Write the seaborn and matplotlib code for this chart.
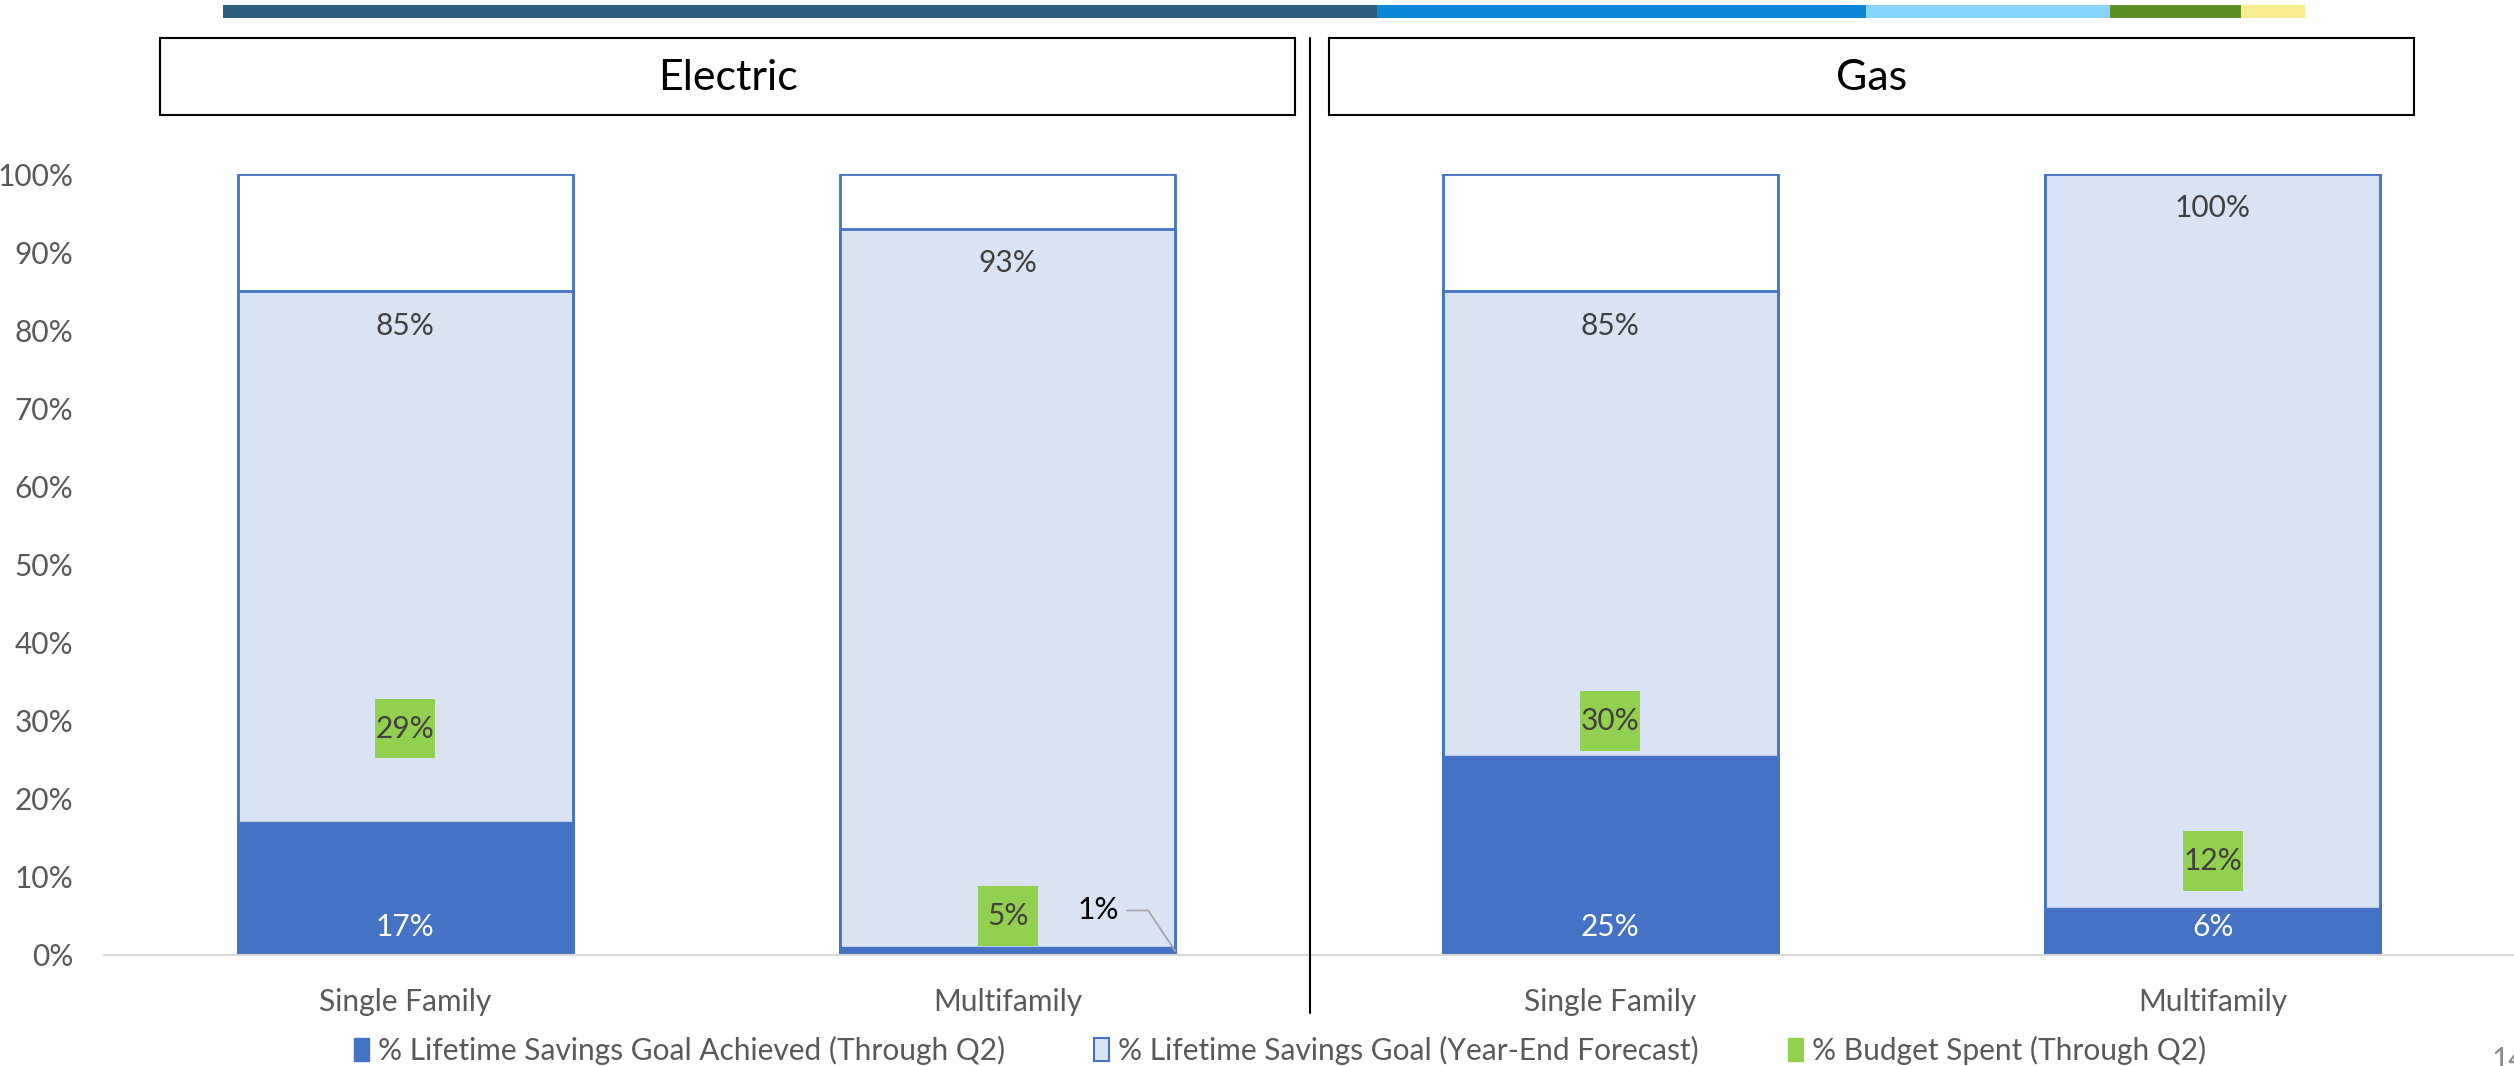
import matplotlib.pyplot as plt
import seaborn as sns
import pandas as pd
from matplotlib.patches import Rectangle, Patch

# data
fuels = ['Electric', 'Electric', 'Gas', 'Gas']
segments = ['Single Family', 'Multifamily', 'Single Family', 'Multifamily']
achieved = [17, 1, 25.5, 6]          # % lifetime savings goal achieved (through Q2)
forecast = [85, 93, 85, 100]        # % lifetime savings goal (year-end forecast)
budget = [29, 5, 30, 12]            # % budget spent (through Q2)
achieved_labels = ['17%', '1%', '25%', '6%']
forecast_labels = ['85%', '93%', '85%', '100%']
budget_labels = ['29%', '5%', '30%', '12%']
headers = ['Electric', 'Gas']
legend_labels = ['% Lifetime Savings Goal Achieved (Through Q2)',
                 '% Lifetime Savings Goal (Year-End Forecast)',
                 '% Budget Spent (Through Q2)']
yticks = [0, 10, 20, 30, 40, 50, 60, 70, 80, 90, 100]

DARK = '#4472C4'
LIGHT = '#DAE3F3'
GREEN = '#92D050'
TXT = '#404040'
FS = 21.5

df = pd.DataFrame({'fuel': fuels, 'segment': segments, 'achieved': achieved,
                   'forecast': forecast, 'budget': budget})
df['key'] = df['fuel'] + ' ' + df['segment']
df['goal'] = 100
df['pos'] = range(len(df))

sns.set_style('white')
plt.rcParams['font.family'] = ['Lato', 'DejaVu Sans']

W, H = 2514, 1066
fig = plt.figure(figsize=(W / 100, H / 100), dpi=100)
ax = fig.add_axes([104 / W, 1 - 955 / H, 1 - 104 / W, (955 - 174) / H])

bw = 0.556
sns.barplot(data=df, x='key', y='goal', color='white', edgecolor=DARK,
            linewidth=2, width=bw, saturation=1, errorbar=None, ax=ax)
sns.barplot(data=df, x='key', y='forecast', color=LIGHT, edgecolor=DARK,
            linewidth=2, width=bw, saturation=1, errorbar=None, ax=ax)
sns.barplot(data=df, x='key', y='achieved', color=DARK, edgecolor=DARK,
            linewidth=1, width=bw, saturation=1, errorbar=None, ax=ax)
sns.scatterplot(data=df, x='key', y='budget', marker='s', s=1850, color=GREEN,
                edgecolor='none', zorder=5, ax=ax)

for i, row in df.iterrows():
    ax.text(i, row['forecast'] - 4.4, forecast_labels[i], ha='center', va='center',
            fontsize=FS, color=TXT)
    ax.text(i, row['budget'], budget_labels[i], ha='center', va='center',
            fontsize=FS, color=TXT, zorder=6)
    if row['achieved'] >= 5:
        ax.text(i, 3.6, achieved_labels[i], ha='center', va='center',
                fontsize=FS, color='white')
    else:
        # small value: label outside with a leader line to the bar
        edge = i + bw / 2
        ax.text(i + 0.15, 5.7, achieved_labels[i], ha='center', va='center',
                fontsize=FS, color='black')
        ax.plot([edge - 0.08, edge - 0.045, edge], [5.7, 5.7, row['achieved'] / 2],
                color='#A6A6A6', lw=1.3, zorder=6)

ax.set_xlim(-0.5, 3.5)
ax.set_ylim(0, 100)
ax.set_yticks(yticks)
ax.set_yticklabels([f'{t}%' for t in yticks])
ax.set_xticks(df['pos'])
ax.set_xticklabels(segments)
ax.set_xlabel('')
ax.set_ylabel('')
ax.tick_params(axis='both', length=0, labelsize=FS, labelcolor='#595959')
ax.tick_params(axis='x', pad=24)
ax.tick_params(axis='y', pad=22)
for s in ['top', 'right', 'left']:
    ax.spines[s].set_visible(False)
ax.spines['bottom'].set_color('#D9D9D9')
ax.spines['bottom'].set_linewidth(1.5)

# divider between Electric and Gas
div_x = (104 + 2 * 603) / W
fig.add_artist(plt.Line2D([div_x, div_x], [1 - 38 / H, 1 - 1013 / H],
                          color='black', lw=1.5))

# panel headers
for txt, (x0, x1) in zip(headers, [(160, 1295), (1329, 2414)]):
    fig.add_artist(Rectangle((x0 / W, 1 - 115 / H), (x1 - x0) / W, 77 / H,
                             facecolor='white', edgecolor='black', lw=1.5,
                             transform=fig.transFigure))
    fig.text((x0 + x1) / 2 / W, 1 - 78 / H, txt, ha='center', va='center',
             fontsize=31, color='black')

# decorative colour strip at the top
strip = [(223, 1377, '#2E5E7E'), (1377, 1866, '#0B87D6'), (1866, 2110, '#87D4FF'),
         (2110, 2241, '#5E8F26'), (2241, 2305, '#F9EC8E')]
for x0, x1, c in strip:
    fig.add_artist(Rectangle((x0 / W, 1 - 18 / H), (x1 - x0) / W, 13 / H,
                             facecolor=c, edgecolor='none', transform=fig.transFigure))

handles = [Patch(facecolor=DARK, edgecolor=DARK),
           Patch(facecolor=LIGHT, edgecolor=DARK, lw=1.5),
           Patch(facecolor=GREEN, edgecolor=GREEN)]
fig.legend(handles, legend_labels, loc='center', bbox_to_anchor=(1280 / W, 1 - 1050 / H),
           ncol=3, frameon=False, fontsize=FS, labelcolor='#595959',
           handlelength=0.5, handleheight=0.8, handletextpad=0.3, columnspacing=3.0)

fig.text(2492 / W, 1 - 1074 / H, '14', fontsize=FS, color='#8C8C8C', ha='left', va='bottom')

fig.savefig('out.png', dpi=100)
